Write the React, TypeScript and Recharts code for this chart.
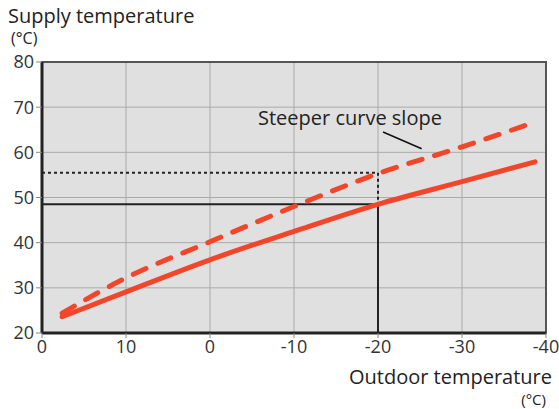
import React from 'react';
import { LineChart, Line, XAxis, YAxis, CartesianGrid, ReferenceLine, ReferenceArea } from 'recharts';

const xTickLabels = ['0', '10', '0', '-10', '-20', '-30', '-40'];
const xTicks = [0, 1, 2, 3, 4, 5, 6];
const yTicks = [20, 30, 40, 50, 60, 70, 80];
const xPositions = [0.24, 1, 2, 3, 4, 5, 5.87];
const normalCurve = [23.6, 29.1, 36.2, 42.5, 48.5, 53.5, 57.9];
const steeperCurve = [24.4, 32.2, 40.2, 48.0, 55.3, 61.2, 66.7];
const designOutdoor = 4;
const normalSupply = 48.5;
const steeperSupply = 55.5;
const pointer = [{ x: 4.06, y: 64.5 }, { x: 4.52, y: 60.8 }];

const data = xPositions.map((x, i) => ({ x, normal: normalCurve[i], steeper: steeperCurve[i] }));

const font = '"Open Sans", "Noto Sans", sans-serif';
const red = '#f2462a';

export default function App() {
  return (
    <div style={{ position: 'absolute', left: 0, top: 0, width: 559, height: 409, overflow: 'hidden', fontFamily: font, color: '#222' }}>
      <LineChart width={559} height={409} data={data} margin={{ top: 62, right: 13, bottom: 46, left: 0 }}>
        <CartesianGrid fill="#e0e0e0" stroke="#aaaaaa" strokeWidth={1} />
        <XAxis
          dataKey="x"
          type="number"
          domain={[0, 6]}
          ticks={xTicks}
          tickFormatter={(v: number) => xTickLabels[v]}
          height={30}
          axisLine={{ stroke: '#222', strokeWidth: 3 }}
          tickLine={{ stroke: '#888' }}
          tickSize={5}
          tick={{ fill: '#333', fontSize: 18, fontFamily: font }}
          interval={0}
        />
        <YAxis
          type="number"
          domain={[20, 80]}
          ticks={yTicks}
          width={42}
          axisLine={{ stroke: '#222', strokeWidth: 3 }}
          tickLine={{ stroke: '#888' }}
          tickSize={6}
          tick={{ fill: '#333', fontSize: 18, fontFamily: font }}
          interval={0}
        />
        <ReferenceArea x1={0} x2={6} y1={20} y2={80} fill="none" stroke="#555" strokeWidth={2} ifOverflow="visible" />
        <ReferenceLine segment={[{ x: 0, y: steeperSupply }, { x: designOutdoor, y: steeperSupply }]} stroke="#222" strokeWidth={2} strokeDasharray="3 3" />
        <ReferenceLine segment={[{ x: designOutdoor, y: steeperSupply }, { x: designOutdoor, y: normalSupply }]} stroke="#222" strokeWidth={2} strokeDasharray="3 3" />
        <ReferenceLine segment={[{ x: 0, y: normalSupply }, { x: designOutdoor, y: normalSupply }]} stroke="#222" strokeWidth={2} />
        <ReferenceLine segment={[{ x: designOutdoor, y: 20 }, { x: designOutdoor, y: normalSupply }]} stroke="#222" strokeWidth={2} />
        <ReferenceLine segment={pointer} stroke="#111" strokeWidth={1.5} />
        <Line type="monotone" dataKey="normal" stroke={red} strokeWidth={5} dot={false} strokeLinecap="round" isAnimationActive={false} />
        <Line type="monotone" dataKey="steeper" stroke={red} strokeWidth={5} strokeDasharray="14 13" dot={false} strokeLinecap="round" isAnimationActive={false} />
      </LineChart>
      <div style={{ position: 'absolute', left: 8, top: 2, fontSize: 20, whiteSpace: 'nowrap' }}>Supply temperature</div>
      <div style={{ position: 'absolute', left: 11, top: 27, fontSize: 16, whiteSpace: 'nowrap' }}>(°C)</div>
      <div style={{ position: 'absolute', left: 258, top: 104, fontSize: 20, whiteSpace: 'nowrap' }}>Steeper curve slope</div>
      <div style={{ position: 'absolute', right: 7, top: 366, fontSize: 20, lineHeight: '22px', whiteSpace: 'nowrap' }}>Outdoor temperature</div>
      <div style={{ position: 'absolute', right: 13, top: 391, fontSize: 15, lineHeight: '17px', whiteSpace: 'nowrap' }}>(°C)</div>
    </div>
  );
}
